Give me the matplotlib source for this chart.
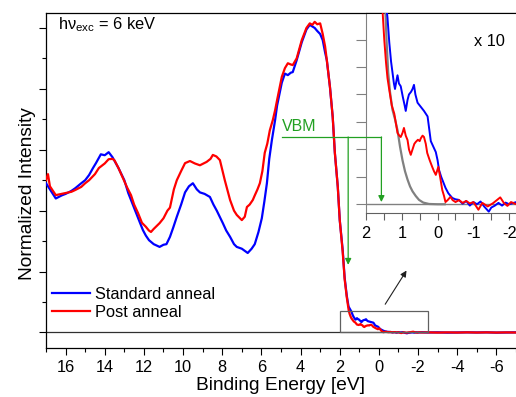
import matplotlib
matplotlib.use("Agg")
import matplotlib.pyplot as plt
from matplotlib.lines import Line2D
from matplotlib.patches import Rectangle
from matplotlib.ticker import MultipleLocator
import numpy as np

plt.rcParams['font.family'] = ['Liberation Sans', 'DejaVu Sans']
plt.rcParams['mathtext.fontset'] = 'custom'
plt.rcParams['mathtext.rm'] = 'Liberation Sans'
plt.rcParams['mathtext.it'] = 'Liberation Sans'
plt.rcParams['axes.unicode_minus'] = False

# ---------------- data ----------------
energy_std = [17.0, 16.8, 16.5, 16.2, 16.0, 15.7, 15.5, 15.2, 15.0, 14.8, 14.6, 14.45, 14.2, 14.0,
              13.8, 13.6, 13.3, 13.0, 12.8, 12.6, 12.4, 12.2, 12.05, 11.9, 11.74, 11.5, 11.2, 11.0,
              10.85, 10.67, 10.5, 10.32, 10.1, 9.9, 9.7, 9.5, 9.3, 9.14, 8.9, 8.63, 8.45, 8.28, 7.97,
              7.8, 7.6, 7.4, 7.26, 7.0, 6.7, 6.5, 6.34, 6.15, 5.98, 5.85, 5.72, 5.6, 5.47, 5.3, 5.2,
              4.96, 4.8, 4.65, 4.5, 4.4, 4.2, 3.94, 3.7, 3.53, 3.4, 3.28, 3.15, 3.0, 2.87, 2.75, 2.66,
              2.5, 2.36, 2.25, 2.1, 2.0, 1.85, 1.75, 1.64, 1.55, 1.45, 1.40, 1.35, 1.30, 1.26, 1.22,
              1.19, 1.15, 1.12, 1.08, 1.03, 0.97, 0.92, 0.89, 0.84, 0.80, 0.74, 0.70, 0.66, 0.62,
              0.56, 0.50, 0.44, 0.38, 0.33, 0.28, 0.24, 0.19, 0.12, 0.05, 0.0, -0.04, -0.10, -0.16,
              -0.22, -0.30, -0.41, -0.50, -0.59, -0.70, -0.80, -0.90, -1.00, -1.10, -1.20, -1.30,
              -1.43, -1.50, -1.60, -1.70, -1.80, -1.90, -2.00, -2.20, -2.5, -3.0, -3.5, -4.0, -4.5,
              -5.0, -5.5, -6.0, -6.5, -7.0]
intensity_std = [0.49, 0.47, 0.44, 0.45, 0.455, 0.465, 0.474, 0.49, 0.50, 0.517, 0.54, 0.556, 0.585, 0.582,
                 0.592, 0.575, 0.54, 0.50, 0.458, 0.425, 0.392, 0.36, 0.336, 0.318, 0.303, 0.29, 0.281, 0.288,
                 0.29, 0.314, 0.345, 0.38, 0.42, 0.46, 0.48, 0.49, 0.47, 0.46, 0.455, 0.445, 0.42, 0.40, 0.359,
                 0.335, 0.314, 0.29, 0.281, 0.275, 0.261, 0.275, 0.29, 0.33, 0.375, 0.43, 0.49, 0.57, 0.63, 0.698, 0.745,
                 0.82, 0.85, 0.845, 0.853, 0.855, 0.894, 0.953, 0.995, 1.01, 1.005, 1.0, 0.99, 0.98, 0.96, 0.92, 0.894,
                 0.806, 0.708, 0.59, 0.478, 0.369, 0.271, 0.18, 0.12, 0.085, 0.074, 0.068, 0.059, 0.052, 0.048, 0.044,
                 0.042, 0.045, 0.047, 0.044, 0.043, 0.039, 0.036, 0.034, 0.038, 0.040, 0.041, 0.042, 0.0435, 0.040,
                 0.037, 0.036, 0.035, 0.034, 0.033, 0.032, 0.028, 0.023, 0.021, 0.019, 0.016, 0.0125, 0.010, 0.008,
                 0.006, 0.004, 0.0023, 0.0018, 0.0016, 0.0002, 0.0012, -0.0005, 0.0008, 0.0, 0.001, -0.0008,
                 -0.0027, -0.0012, -0.0005, 0.0005, -0.0005, 0.0006, 0.0, 0.0008, 0.0, 0.0005, -0.0005, 0.0, 0.0005,
                 0.0, 0.0005, -0.0005, 0.0, 0.0005]

energy_post = [17.0, 16.9, 16.8, 16.5, 16.2, 16.0, 15.7, 15.5, 15.2, 15.0, 14.8, 14.5, 14.3, 14.0, 13.8,
               13.6, 13.5, 13.3, 13.07, 12.85, 12.66, 12.5, 12.3, 12.1, 11.9, 11.75, 11.64, 11.5, 11.2, 11.0,
               10.8, 10.67, 10.47, 10.32, 10.1, 9.9, 9.65, 9.4, 9.14, 8.95, 8.8, 8.6, 8.48, 8.3, 8.12, 8.0,
               7.87, 7.6, 7.4, 7.26, 7.0, 6.85, 6.74, 6.6, 6.44, 6.34, 6.2, 6.08, 5.95, 5.83, 5.7, 5.57, 5.42,
               5.3, 5.2, 4.96, 4.8, 4.65, 4.5, 4.4, 4.2, 3.94, 3.7, 3.53, 3.4, 3.28, 3.15, 3.0, 2.87, 2.75,
               2.66, 2.5, 2.36, 2.25, 2.1, 2.0, 1.85, 1.75, 1.64, 1.54, 1.49, 1.44, 1.40, 1.35, 1.28, 1.21,
               1.16, 1.12, 1.07, 1.03, 0.98, 0.94, 0.89, 0.84, 0.80, 0.75, 0.70, 0.65, 0.61, 0.55, 0.50, 0.47,
               0.42, 0.38, 0.33, 0.29, 0.22, 0.15, 0.10, 0.05, -0.02, -0.07, -0.13, -0.18, -0.22, -0.28, -0.36,
               -0.42, -0.50, -0.60, -0.70, -0.80, -0.90, -1.00, -1.14, -1.25, -1.40, -1.55, -1.75, -1.85, -1.95,
               -2.05, -2.20, -2.5, -3.0, -3.5, -4.0, -4.5, -5.0, -5.5, -6.0, -6.5, -7.0]
intensity_post = [0.50, 0.52, 0.48, 0.451, 0.455, 0.458, 0.462, 0.468, 0.478, 0.49, 0.50, 0.52, 0.54, 0.555, 0.569,
                  0.57, 0.565, 0.54, 0.507, 0.475, 0.451, 0.42, 0.392, 0.36, 0.347, 0.335, 0.33, 0.34, 0.359, 0.375,
                  0.40, 0.41, 0.47, 0.50, 0.53, 0.556, 0.563, 0.555, 0.549, 0.555, 0.56, 0.57, 0.583, 0.578, 0.566, 0.535,
                  0.50, 0.435, 0.40, 0.386, 0.369, 0.38, 0.412, 0.42, 0.435, 0.45, 0.47, 0.49, 0.53, 0.59, 0.62, 0.664, 0.697,
                  0.73, 0.763, 0.839, 0.868, 0.884, 0.88, 0.878, 0.90, 0.96, 1.0, 1.015, 1.01, 1.02, 1.012, 1.015, 0.98, 0.94,
                  0.894, 0.806, 0.708, 0.59, 0.478, 0.369, 0.265, 0.175, 0.115, 0.071, 0.060, 0.0515, 0.046, 0.0417, 0.036, 0.033,
                  0.029, 0.026, 0.025, 0.0245, 0.026, 0.0278, 0.025, 0.0234, 0.020, 0.018, 0.020, 0.022, 0.0227, 0.0235, 0.023, 0.024,
                  0.025, 0.0245, 0.022, 0.0187, 0.016, 0.0136, 0.012, 0.0107, 0.0136, 0.010, 0.0052, 0.003, 0.0008, 0.0015, 0.0027,
                  0.0015, 0.0008, 0.0015, 0.0005, 0.0012, 0.0003, 0.0008, -0.002, 0.0005, -0.0008, 0.0004, 0.0025, 0.0005, -0.0006,
                  0.0008, 0.0, 0.0004, -0.0004, 0.0003, -0.0003, 0.0004, -0.0002, 0.0003, -0.0003, 0.0002, -0.0002]

energy_fit = [1.55, 1.46, 1.42, 1.38, 1.33, 1.26, 1.19, 1.12, 1.05, 0.98, 0.91, 0.84, 0.77, 0.70,
              0.61, 0.52, 0.40, 0.24, 0.0, -0.2]
intensity_fit = [0.09, 0.071, 0.058, 0.048, 0.041, 0.0344, 0.031, 0.027, 0.021, 0.016, 0.012, 0.009,
                 0.0065, 0.0047, 0.003, 0.0016, 0.0006, 0.0001, 0.0, 0.0]

x_ticks_main = [16, 14, 12, 10, 8, 6, 4, 2, 0, -2, -4, -6]
x_ticks_inset = [2, 1, 0, -1, -2]
vbm = 1.57
magnification = 10
zoom_box = (2.0, -2.5, 0.0, 0.071)

# ---------------- figure ----------------
W, H = 516, 397
fig = plt.figure(figsize=(W / 100, H / 100), dpi=100)

def px_rect(l, t, r, b):
    return [l / W, 1 - b / H, (r - l) / W, (b - t) / H]

ax = fig.add_axes(px_rect(46, 12.7, 516, 347.7))
ax.plot(energy_std, intensity_std, color='#0000ff', lw=1.6, zorder=3)
ax.plot(energy_post, intensity_post, color='#ff0000', lw=1.6, zorder=4)
ax.axhline(0, color='#303030', lw=0.9, zorder=2)
ax.set_xlim(17, -7)
ax.set_ylim(-0.05, 1.05)
ax.set_xticks(x_ticks_main)
ax.xaxis.set_minor_locator(MultipleLocator(1))
ax.yaxis.set_major_locator(MultipleLocator(0.2))
ax.yaxis.set_minor_locator(MultipleLocator(0.1))
ax.set_yticklabels([])
ax.tick_params(which='major', direction='out', length=5, width=0.8, labelsize=11.8, pad=4)
ax.tick_params(which='minor', direction='out', length=3, width=0.8)
ax.spines['right'].set_visible(False)
for s in ['left', 'top', 'bottom']:
    ax.spines[s].set_linewidth(0.9)
ax.set_xlabel('Binding Energy [eV]', fontsize=13.8, labelpad=1)
ax.set_ylabel('Normalized Intensity', fontsize=13.8)
ax.yaxis.set_label_coords(-0.0213, 0.46)

x0, x1, y0, y1 = zoom_box
ax.add_patch(Rectangle((x1, y0), x0 - x1, y1 - y0, fill=False, edgecolor='#606060', lw=0.9, zorder=5))
ax.annotate('', xy=(-1.485, 0.211), xytext=(-0.245, 0.085),
            arrowprops=dict(arrowstyle='-|>', color='#202020', lw=0.8, mutation_scale=9))

ax.text(0.0255, 0.963, r'h$\mathrm{\nu}_{\mathrm{exc}}$ = 6 keV', transform=ax.transAxes,
        fontsize=11.8, va='center', ha='left')

leg = ax.legend(['Standard anneal', 'Post anneal'], loc='lower left', bbox_to_anchor=(0.012, 0.082),
                frameon=False, fontsize=11.8, handlelength=2.35, handletextpad=0.3,
                labelspacing=0.22, borderpad=0, borderaxespad=0)

# ---------------- inset ----------------
axin = fig.add_axes(px_rect(366, 12.7, 516, 213.3))
axin.plot(energy_fit, np.array(intensity_fit) * magnification, color='#808080', lw=1.6, zorder=3)
axin.plot(energy_std, np.array(intensity_std) * magnification, color='#0000ff', lw=1.4, zorder=4)
axin.plot(energy_post, np.array(intensity_post) * magnification, color='#ff0000', lw=1.4, zorder=5)
axin.axhline(0, color='#808080', lw=1.0, zorder=2)
axin.set_xlim(2, -2.19)
axin.set_ylim(-0.033, 0.698)
axin.set_xticks(x_ticks_inset)
axin.xaxis.set_minor_locator(MultipleLocator(0.5))
axin.yaxis.set_major_locator(MultipleLocator(0.1))
axin.set_yticklabels([])
axin.tick_params(axis='x', which='major', direction='out', length=5, width=0.8, labelsize=11.8,
                 pad=4, color='#606060')
axin.tick_params(axis='x', which='minor', direction='out', length=5, width=0.8, color='#606060')
axin.tick_params(axis='y', which='major', direction='out', length=7, width=0.8, color='#808080')
axin.spines['right'].set_visible(False)
axin.spines['left'].set_color('#808080')
axin.spines['bottom'].set_color('#606060')
axin.spines['top'].set_color('black')
axin.text(0.72, 0.855, 'x 10', transform=axin.transAxes, fontsize=11.8, va='center', ha='left')

# ---------------- VBM marker ----------------
green = '#22a022'
vbm_y_main = 0.642
axin_x_disp = axin.transData.transform((vbm, 0))[0]
x_end_main = ax.transData.inverted().transform((axin_x_disp, 0))[0]
fig.add_artist(Line2D([4.97, x_end_main], [vbm_y_main, vbm_y_main], transform=ax.transData,
                      color=green, lw=0.9, zorder=10))
ax.annotate('', xy=(vbm, 0.222), xytext=(vbm, vbm_y_main),
            arrowprops=dict(arrowstyle='-|>', color=green, lw=0.9, mutation_scale=9,
                            shrinkA=0, shrinkB=0), zorder=10)
y_disp = ax.transData.transform((0, vbm_y_main))[1]
vbm_y_in = axin.transData.inverted().transform((0, y_disp))[1]
axin.annotate('', xy=(vbm, 0.008), xytext=(vbm, vbm_y_in),
              arrowprops=dict(arrowstyle='-|>', color=green, lw=0.9, mutation_scale=9,
                              shrinkA=0, shrinkB=0), zorder=10)
ax.text(4.05, 0.675, 'VBM', color=green, fontsize=11.5, va='center', ha='center', zorder=10)

fig.savefig('out.png', dpi=100)
